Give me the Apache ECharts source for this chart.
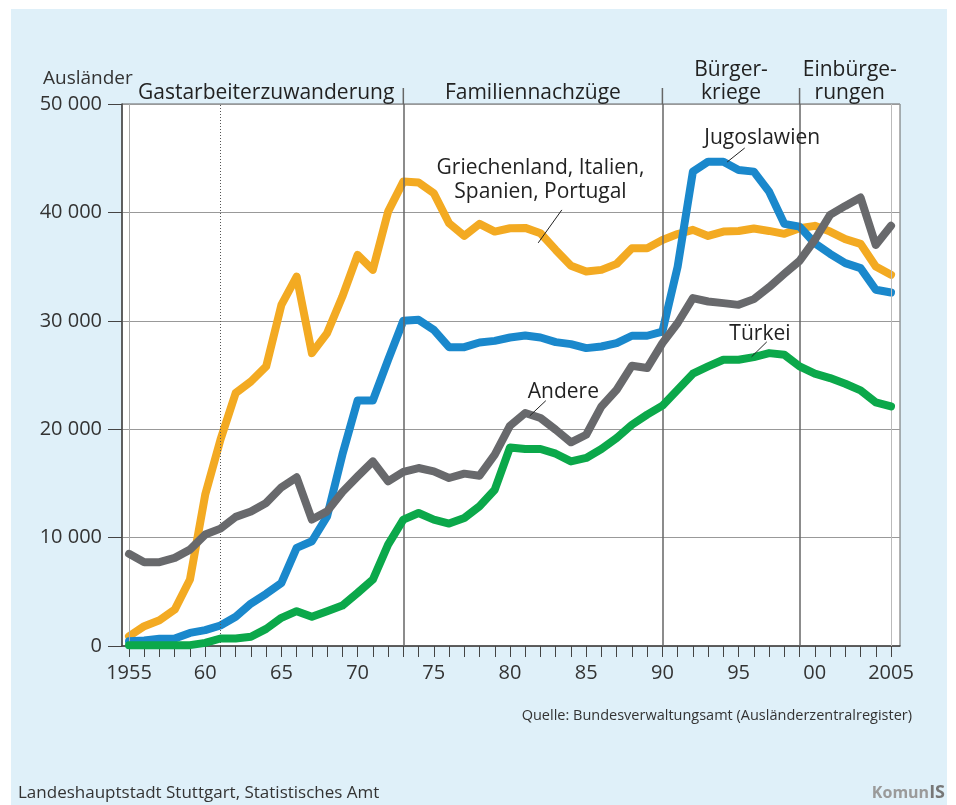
<!DOCTYPE html>
<html>
<head>
<meta charset="utf-8">
<script src="https://cdn.jsdelivr.net/npm/echarts@6/dist/echarts.min.js"></script>
<style>
  html, body { margin: 0; padding: 0; background: #fff; }
  #wrap { position: relative; width: 956px; height: 805px; }
  #panel { position: absolute; left: 11px; top: 9px; width: 936px; height: 796px; background: #dff0f9; }
  #main { position: absolute; left: 0; top: 0; width: 956px; height: 805px; }
</style>
</head>
<body>
<div id="wrap"><div id="panel"></div><div id="main"></div></div>
<script>
var years = [];
for (var y = 1955; y <= 2005; y++) years.push(y);

// Griechenland, Italien, Spanien, Portugal
var griechenland = [900, 1830, 2380, 3360, 6130, 13960, 19030, 23340, 24400, 25790,
  31470, 34080, 27020, 28870, 32240, 36080, 34700, 40070, 42840, 42750,
  41770, 39000, 37830, 38940, 38230, 38540, 38570, 38080, 36540, 35070,
  34540, 34700, 35250, 36700, 36700, 37460, 38000, 38390, 37830, 38230,
  38290, 38510, 38290, 38020, 38540, 38760, 38230, 37530, 37100, 35010, 34240];
var jugoslawien = [440, 500, 660, 690, 1210, 1460, 1890, 2690, 3920, 4810,
  5820, 9050, 9660, 11960, 17650, 22650, 22650, 26400, 30000, 30090,
  29170, 27570, 27570, 28000, 28150, 28460, 28650, 28460, 28030, 27850,
  27480, 27630, 27940, 28620, 28620, 29010, 35000, 43760, 44680, 44680,
  43920, 43760, 41920, 38940, 38690, 37160, 36180, 35320, 34860, 32860, 32610];
var andere = [8500, 7730, 7730, 8130, 8890, 10280, 10830, 11910, 12400, 13200,
  14640, 15560, 11660, 12420, 14210, 15650, 17030, 15190, 16060, 16420,
  16110, 15500, 15900, 15710, 17650, 20320, 21490, 21030, 19950, 18790,
  19490, 22100, 23640, 25860, 25640, 27940, 29800, 32090, 31780, 31630,
  31470, 32000, 33100, 34330, 35530, 37470, 39770, 40600, 41370, 37000, 38760];
var tuerkei = [80, 80, 80, 80, 80, 290, 690, 690, 850, 1580,
  2600, 3210, 2690, 3210, 3730, 4900, 6130, 9350, 11660, 12270,
  11660, 11290, 11810, 12890, 14420, 18320, 18170, 18170, 17740, 17030,
  17350, 18170, 19190, 20410, 21340, 22170, 23640, 25120, 25790, 26410,
  26410, 26650, 27020, 26870, 25790, 25120, 24720, 24190, 23580, 22470, 22100];

var labelYears = [1955, 1960, 1965, 1970, 1975, 1980, 1985, 1990, 1995, 2000, 2005];
var periodBreaks = [1955, 1973, 1990, 1999];
var periodNames = ['Gastarbeiterzuwanderung', 'Familiennachzüge', 'Bürger-\nkriege', 'Einbürge-\nrungen'];

// annotation: text centre, leader from, leader to (data coordinates)
var annotations = [
  { text: 'Griechenland, Italien,\nSpanien, Portugal', at: [1982.0, 43000], from: [1983.4, 40230], to: [1981.85, 37190] },
  { text: 'Jugoslawien', at: [1996.55, 46870], from: [1995.4, 45940], to: [1994.25, 44650] },
  { text: 'Andere', at: [1983.5, 23460], from: [1982.35, 22630], to: [1981.3, 21240] },
  { text: 'Türkei', at: [1996.4, 28800], from: [1996.85, 28060], to: [1995.85, 26680] }
];

var font = '"Open Sans", "Noto Sans", sans-serif';
var narrow = '"Liberation Sans Narrow", "Open Sans", sans-serif';
var xMin = 1954.54, xMax = 2005.59;

function pairs(vals) {
  return years.map(function (yr, i) { return [yr, vals[i]]; });
}

function lineSeries(name, color, vals, z) {
  return {
    name: name,
    type: 'line',
    data: pairs(vals),
    symbol: 'none',
    z: z,
    lineStyle: { color: color, width: 8, cap: 'round', join: 'round' },
    animation: false
  };
}

var myChart = echarts.init(document.getElementById('main'));
var option = {
  backgroundColor: 'transparent',
  textStyle: { fontFamily: font },
  grid: {
    left: 122, right: 56, top: 104, bottom: 159,
    show: true, backgroundColor: '#fff', borderColor: '#666', borderWidth: 1
  },
  xAxis: {
    type: 'value',
    min: xMin, max: xMax,
    axisLine: { lineStyle: { color: '#444', width: 1.5 } },
    axisTick: { show: true, length: 11, customValues: years, lineStyle: { color: '#444', width: 1 } },
    axisLabel: {
      customValues: labelYears,
      margin: 17,
      fontSize: 20, color: '#333', fontFamily: font,
      formatter: function (v) {
        return (v === 1955 || v === 2005) ? String(v) : String(v).slice(2);
      }
    },
    splitLine: { show: false }
  },
  yAxis: {
    type: 'value',
    min: 0, max: 50000, interval: 10000,
    axisLine: { show: true, lineStyle: { color: '#444', width: 1.5 } },
    axisTick: { show: true, length: 14, lineStyle: { color: '#444' } },
    axisLabel: {
      margin: 20, fontSize: 20, color: '#333', fontFamily: font,
      formatter: function (v) { return v === 0 ? '0' : String(v / 1000) + ' 000'; }
    },
    splitLine: { lineStyle: { color: '#999', width: 1 } }
  },
  title: {
    text: 'Ausländer',
    left: 38, top: 64,
    textStyle: { fontSize: 19, fontWeight: 'normal', color: '#333', fontFamily: font }
  },
  series: [
    {
      type: 'line', data: [], z: 1, silent: true,
      markLine: {
        symbol: 'none', silent: true, animation: false,
        label: { show: false },
        data: [
          { xAxis: 1955, lineStyle: { color: '#aaa', width: 1, type: 'solid' } },
          { xAxis: 1961, lineStyle: { color: '#555', width: 1, type: [1, 2] } },
          { xAxis: 1973, lineStyle: { color: '#666', width: 1.5, type: 'solid' } },
          { xAxis: 1990, lineStyle: { color: '#666', width: 1.5, type: 'solid' } },
          { xAxis: 1999, lineStyle: { color: '#666', width: 1.5, type: 'solid' } },
          { xAxis: 2005, lineStyle: { color: '#bbb', width: 1, type: 'solid' } }
        ]
      }
    },
    lineSeries('Griechenland, Italien, Spanien, Portugal', '#f3aa22', griechenland, 3),
    lineSeries('Jugoslawien', '#1a88cc', jugoslawien, 4),
    lineSeries('Türkei', '#0ba84a', tuerkei, 5),
    lineSeries('Andere', '#68696c', andere, 6)
  ]
};
myChart.setOption(option);

// texts and leader lines placed through the chart's own scales
function px(pt) { return myChart.convertToPixel({ gridIndex: 0 }, pt); }
var graphics = [];
var topY = px([xMin, 50000])[1];
var ends = periodBreaks.concat([xMax]);
for (var i = 0; i < periodNames.length; i++) {
  var a = px([ends[i], 50000])[0], b = px([ends[i + 1], 50000])[0];
  graphics.push({
    type: 'text', x: (a + b) / 2, y: topY + 1,
    style: {
      text: periodNames[i], font: '21px ' + font, fill: '#222',
      align: 'center', verticalAlign: 'bottom', lineHeight: 23
    }
  });
  if (i > 0) {
    graphics.push({
      type: 'line',
      shape: { x1: a, y1: topY - 16, x2: a, y2: topY },
      style: { stroke: '#666', lineWidth: 1.5 }
    });
  }
}
annotations.forEach(function (an) {
  var c = px(an.at), f = px(an.from), t = px(an.to);
  graphics.push({
    type: 'text', x: c[0], y: c[1], z: 10,
    style: {
      text: an.text, font: '21px ' + font, fill: '#222',
      align: 'center', verticalAlign: 'middle', lineHeight: 24
    }
  });
  graphics.push({
    type: 'line', z: 10,
    shape: { x1: f[0], y1: f[1], x2: t[0], y2: t[1] },
    style: { stroke: '#222', lineWidth: 1 }
  });
});
graphics.push({
  type: 'text', x: 912, y: 716,
  style: { text: 'Quelle: Bundesverwaltungsamt (Ausländerzentralregister)', font: '14.5px ' + narrow, fill: '#333', align: 'right', verticalAlign: 'middle' }
});
graphics.push({
  type: 'text', x: 18, y: 793,
  style: { text: 'Landeshauptstadt Stuttgart, Statistisches Amt', font: '17px ' + narrow, fill: '#333', align: 'left', verticalAlign: 'middle' }
});
graphics.push({
  type: 'text', x: 945, y: 793,
  style: {
    text: '{a|Komun}{b|IS}', align: 'right', verticalAlign: 'middle',
    rich: {
      a: { fontSize: 16, fontWeight: 'bold', fill: '#9a9a9a', fontFamily: font },
      b: { fontSize: 18, fontWeight: 'bold', fill: '#777', fontFamily: font }
    }
  }
});
myChart.setOption({ graphic: graphics });
</script>
</body>
</html>
